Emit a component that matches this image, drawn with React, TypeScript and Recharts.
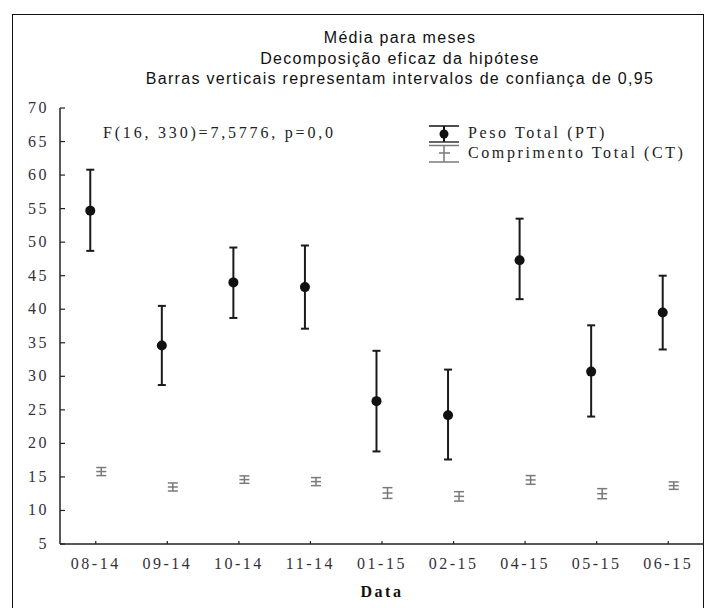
import { ScatterChart, Scatter, XAxis, YAxis, ErrorBar } from 'recharts';

// Months on the category axis
const months = ['08-14', '09-14', '10-14', '11-14', '01-15', '02-15', '04-15', '05-15', '06-15'];

// Peso Total (PT): means and 95% confidence limits
const ptMean = [54.7, 34.6, 44.0, 43.3, 26.3, 24.2, 47.3, 30.7, 39.5];
const ptLow = [48.7, 28.7, 38.7, 37.1, 18.8, 17.6, 41.5, 24.0, 34.0];
const ptHigh = [60.8, 40.5, 49.2, 49.5, 33.8, 31.0, 53.5, 37.6, 45.0];

// Comprimento Total (CT): means and 95% confidence limits
const ctMean = [15.8, 13.5, 14.6, 14.3, 12.6, 12.1, 14.55, 12.5, 13.7];
const ctLow = [15.2, 12.9, 14.05, 13.7, 11.8, 11.4, 13.9, 11.75, 13.15];
const ctHigh = [16.4, 14.1, 15.15, 14.9, 13.4, 12.8, 15.2, 13.25, 14.25];

const yTicks = [5, 10, 15, 20, 25, 30, 35, 40, 45, 50, 55, 60, 65, 70];
const xTicks = months.map((_, i) => i);

const titleLines = [
  'Média para meses',
  'Decomposição eficaz da hipótese',
  'Barras verticais representam intervalos de confiança de 0,95',
];
const statText = 'F(16, 330)=7,5776, p=0,0';

// the two series sit slightly left/right of each month tick
const shift = 0.077;

const ptData = months.map((m, i) => ({
  x: i - shift,
  y: ptMean[i],
  err: [ptMean[i] - ptLow[i], ptHigh[i] - ptMean[i]],
}));
const ctData = months.map((m, i) => ({
  x: i + shift,
  y: ctMean[i],
  err: [ctMean[i] - ctLow[i], ctHigh[i] - ctMean[i]],
}));

const serif = '"Liberation Serif", "Times New Roman", serif';
const sans = '"Liberation Sans", Arial, sans-serif';
const tickColor = '#352f38';
const ptColor = '#111';
const ctColor = '#7a7a7a';

const XTick = (props: any) => {
  const { x, y, payload } = props;
  return (
    <g>
      <line x1={x} x2={x} y1={y} y2={y - 3} stroke="#222" strokeWidth={1.2} />
      <text x={x} y={y + 25} textAnchor="middle" fontFamily={serif} fontSize={16}
        fill={tickColor} style={{ letterSpacing: 2.5 }}>
        {months[payload.value]}
      </text>
    </g>
  );
};

const YTick = (props: any) => {
  const { x, y, payload } = props;
  return (
    <g>
      <line x1={x} x2={x + 5} y1={y} y2={y} stroke="#222" strokeWidth={1.2} />
      <text x={x - 11} y={y + 5} textAnchor="end" fontFamily={serif} fontSize={16}
        fill={tickColor} style={{ letterSpacing: 2.5 }}>
        {payload.value}
      </text>
    </g>
  );
};

const ptDot = (p: any) => <circle cx={p.cx} cy={p.cy} r={5} fill={ptColor} />;
const ctDot = (p: any) => (
  <line x1={p.cx - 5} x2={p.cx + 5} y1={p.cy} y2={p.cy} stroke={ctColor} strokeWidth={1.5} />
);

export default function App() {
  return (
    <div style={{ position: 'absolute', left: 0, top: 0, width: 708, height: 608, overflow: 'hidden', background: '#fff' }}>
      <div style={{ position: 'absolute', left: 12, top: 14, width: 690, height: 610, border: '1.5px solid #111' }} />

      <div style={{ position: 'absolute', left: 100, top: 28, width: 600, textAlign: 'center', fontFamily: sans,
        fontSize: 16, lineHeight: '20.7px', letterSpacing: 1.3, color: '#111' }}>
        {titleLines.map((t) => <div key={t}>{t}</div>)}
      </div>

      <ScatterChart width={708} height={608} margin={{ top: 108, right: 4, bottom: 0, left: 0 }}>
        <XAxis type="number" dataKey="x" domain={[-0.5, 8.5]} ticks={xTicks} interval={0}
          height={64} tickLine={false} tickSize={0} tickMargin={0} tick={<XTick />}
          axisLine={{ stroke: '#222', strokeWidth: 1.5 }}
          label={{ value: 'Data', position: 'insideBottom', offset: 11, fontFamily: serif, fontSize: 16,
            fontWeight: 'bold', fill: '#111', style: { letterSpacing: 2.5 } }} />
        <YAxis type="number" dataKey="y" domain={[5, 70]} ticks={yTicks} interval={0} width={60}
          tickLine={false} tickSize={0} tickMargin={0} tick={<YTick />}
          axisLine={{ stroke: '#222', strokeWidth: 1.5 }} />
        <Scatter data={ctData} shape={ctDot} isAnimationActive={false}>
          <ErrorBar dataKey="err" direction="y" width={5} stroke={ctColor} strokeWidth={1.5} />
        </Scatter>
        <Scatter data={ptData} shape={ptDot} isAnimationActive={false}>
          <ErrorBar dataKey="err" direction="y" width={4} stroke="#1a1a1a" strokeWidth={2} />
        </Scatter>
      </ScatterChart>

      <div style={{ position: 'absolute', left: 103, top: 123, fontFamily: serif, fontSize: 16, lineHeight: '20px',
        letterSpacing: 2.8, color: '#222', whiteSpace: 'nowrap' }}>
        {statText}
      </div>

      {/* legend */}
      <svg style={{ position: 'absolute', left: 425, top: 120 }} width={40} height={48}>
        <line x1={4} x2={34} y1={6} y2={6} stroke={ptColor} strokeWidth={1.5} />
        <line x1={19} x2={19} y1={6} y2={22} stroke={ptColor} strokeWidth={2} />
        <circle cx={19} cy={14} r={4.5} fill={ptColor} />
        <line x1={4} x2={34} y1={22} y2={22} stroke="#333" strokeWidth={1.5} />
        <line x1={4} x2={34} y1={25.5} y2={25.5} stroke={ctColor} strokeWidth={1.5} />
        <line x1={19} x2={19} y1={25.5} y2={42} stroke={ctColor} strokeWidth={1.5} />
        <line x1={14} x2={25} y1={33} y2={33} stroke={ctColor} strokeWidth={1.5} />
        <line x1={4} x2={34} y1={42} y2={42} stroke={ctColor} strokeWidth={1.5} />
      </svg>
      <div style={{ position: 'absolute', left: 468, top: 123, fontFamily: serif, fontSize: 16, lineHeight: '20px',
        letterSpacing: 2.6, color: '#222', whiteSpace: 'nowrap' }}>
        <div>Peso Total (PT)</div>
        <div>Comprimento Total (CT)</div>
      </div>
    </div>
  );
}
